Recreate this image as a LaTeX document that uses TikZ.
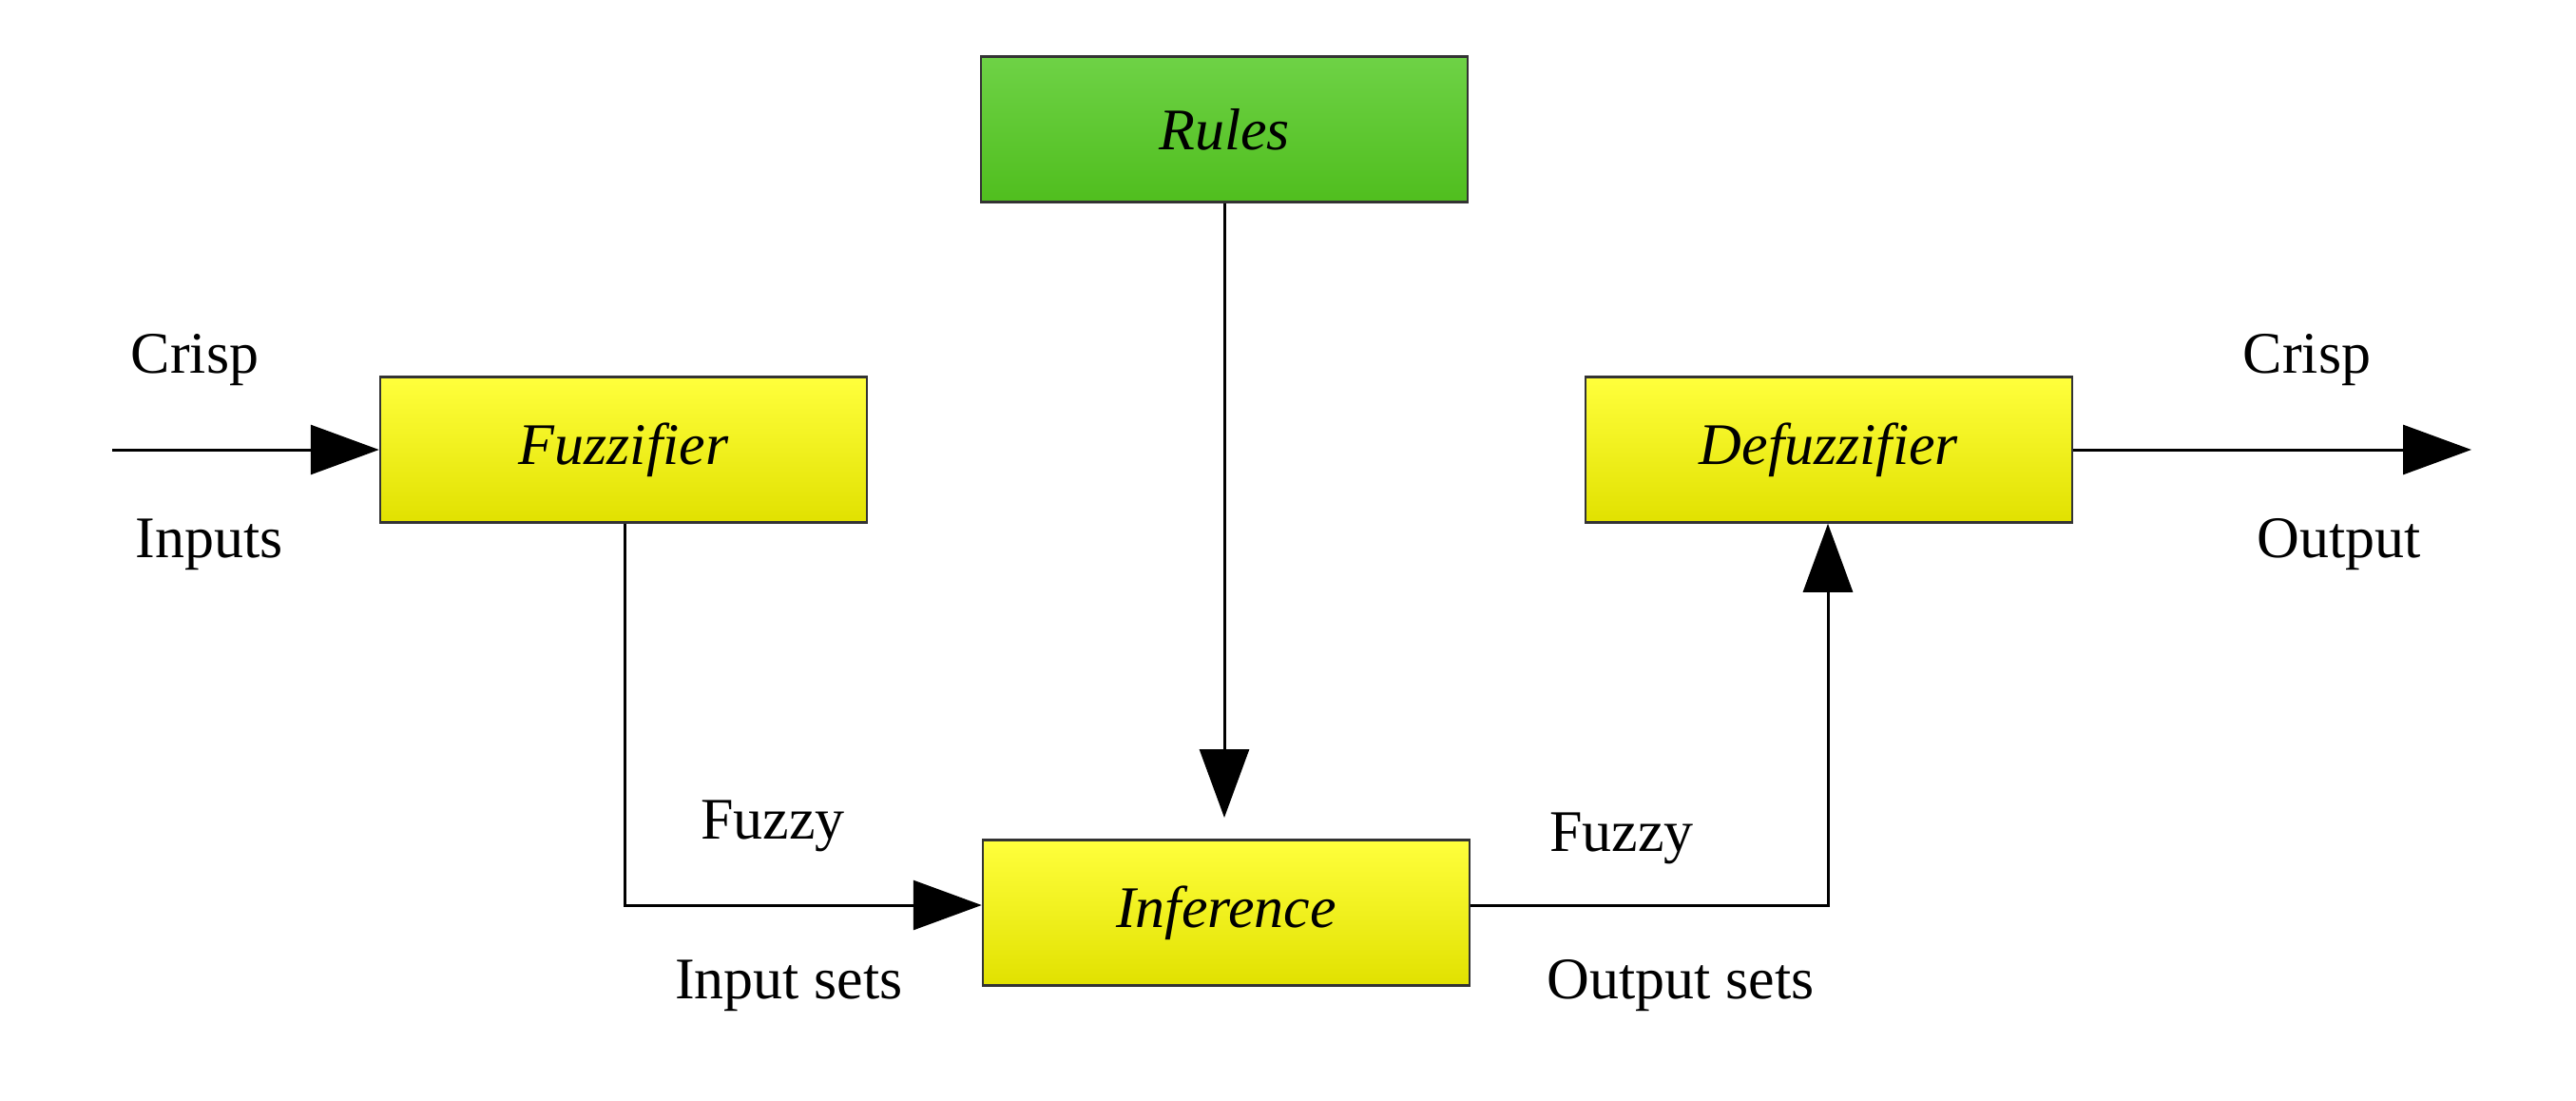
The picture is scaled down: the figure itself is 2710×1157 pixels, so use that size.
\documentclass[tikz,border=0pt]{standalone}
\usepackage{fontspec}
\setmainfont{Liberation Serif}
\usetikzlibrary{arrows.meta}
\definecolor{ytop}{RGB}{255,255,60}
\definecolor{ybot}{RGB}{225,225,0}
\definecolor{gtop}{RGB}{110,210,70}
\definecolor{gbot}{RGB}{80,190,30}
\begin{document}
\begin{tikzpicture}[x=1pt,y=-1pt,
  box/.style={draw=black!80,line width=2.5pt,minimum width=512pt,minimum height=153pt,inner sep=0pt,font=\fontsize{62}{70}\selectfont\itshape},
  ybox/.style={box,top color=ytop,bottom color=ybot},
  gbox/.style={box,top color=gtop,bottom color=gbot},
  lab/.style={font=\fontsize{62}{70}\selectfont,inner sep=0pt},
  arr/.style={line width=3pt,-{Triangle[length=72pt,width=52pt]}},
  ln/.style={line width=3pt}]
\useasboundingbox (0,0) rectangle (2710,1157);
\node[gbox] (rules) at (1288,136) {Rules};
\node[ybox] (fuzz) at (656,473) {Fuzzifier};
\node[ybox] (defuzz) at (1924,473) {Defuzzifier};
\node[ybox] (inf) at (1290,960) {Inference};
\coordinate (in) at (118,473);
\coordinate (out) at (2600,473);
\coordinate (c1) at (657,952);
\coordinate (c2) at (1923,952);
\coordinate (rend) at (1288,860);
\draw[arr] (in) -- (fuzz.west);
\draw[arr] (defuzz.east) -- (out);
\draw[arr] (rules.south) -- (rend);
\draw[arr] (fuzz.south -| c1) -- (c1) -- (inf.west |- c1);
\draw[arr] (inf.east |- c2) -- (c2) -- (defuzz.south -| c2);
\node[lab] at (205,379) {Crisp};
\node[lab] at (220,573) {Inputs};
\node[lab] at (813,869) {Fuzzy};
\node[lab] at (830,1037) {Input sets};
\node[lab] at (1706,882) {Fuzzy};
\node[lab] at (1768,1037) {Output sets};
\node[lab] at (2427,379) {Crisp};
\node[lab] at (2461,573) {Output};
\end{tikzpicture}
\end{document}
